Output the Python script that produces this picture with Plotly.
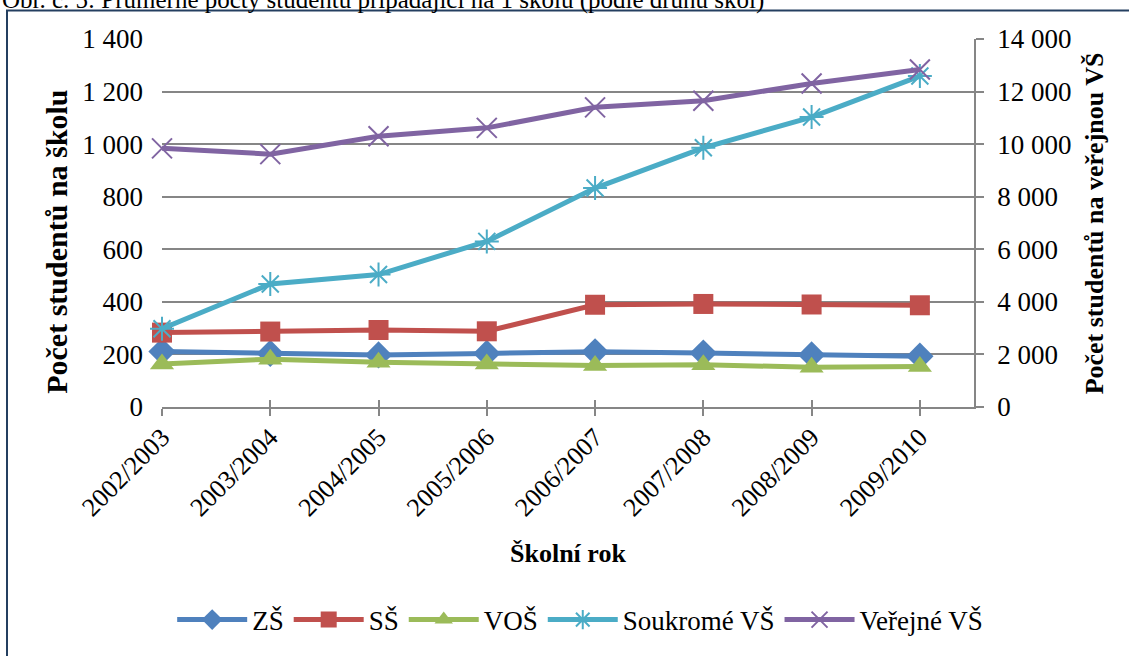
import plotly.graph_objects as go

years = ["2002/2003", "2003/2004", "2004/2005", "2005/2006",
         "2006/2007", "2007/2008", "2008/2009", "2009/2010"]
zs = [211, 204, 198, 204, 210, 205, 198, 193]
ss = [283, 287, 293, 288, 389, 392, 390, 387]
vos = [164, 182, 170, 164, 158, 161, 151, 154]
soukrome_vs = [2980, 4680, 5040, 6300, 8330, 9860, 11030, 12590]
verejne_vs = [9840, 9620, 10300, 10620, 11400, 11650, 12310, 12840]
left_ticks = [0, 200, 400, 600, 800, 1000, 1200, 1400]
right_ticks = [0, 2000, 4000, 6000, 8000, 10000, 12000, 14000]

xpos = list(range(len(years)))
FONT = "Liberation Serif"
GRID = "#868686"

fig = go.Figure()

def add(name, vals, color, symbol, size, yaxis="y", open_marker=False):
    marker = dict(symbol=symbol, size=size, color=color)
    if open_marker:
        marker["line"] = dict(color=color, width=2)
    fig.add_trace(go.Scatter(
        x=xpos, y=vals, name=name, mode="lines+markers", yaxis=yaxis,
        line=dict(color=color, width=5), marker=marker, cliponaxis=False))

add("ZŠ", zs, "#4F81BD", "diamond", 21)
add("SŠ", ss, "#C0504D", "square", 20)
add("VOŠ", vos, "#9BBB59", "triangle-up", 21)
add("Soukromé VŠ", soukrome_vs, "#4BACC6", "asterisk-open", 20, "y2", True)
add("Veřejné VŠ", verejne_vs, "#8064A2", "x-thin-open", 20, "y2", True)

# dummy trace for overlay x axis (inside tick marks)
fig.add_trace(go.Scatter(x=[None], y=[None], xaxis="x2", showlegend=False,
                         hoverinfo="skip"))

fig.update_layout(
    width=1129, height=656,
    margin=dict(l=162, r=155, t=39, b=244),
    paper_bgcolor="white", plot_bgcolor="white",
    separators=", ",
    font=dict(family=FONT, size=27, color="black"),
    xaxis=dict(range=[0, 7.5], tickvals=xpos, ticktext=years, tickangle=-45,
               showgrid=False, zeroline=False, showline=True, linecolor=GRID,
               linewidth=1.5, ticks="outside", ticklen=7, tickcolor=GRID,
               tickwidth=1.5, ticklabelstandoff=-4,
               tickfont=dict(family=FONT, size=26)),
    xaxis2=dict(range=[0, 7.5], tickvals=xpos, overlaying="x", anchor="y",
                side="bottom", showticklabels=False, showgrid=False,
                zeroline=False, ticks="inside", ticklen=7, tickcolor=GRID,
                tickwidth=1.5),
    yaxis=dict(range=[0, 1400], tickvals=left_ticks, tickformat=",d",
               showgrid=True, gridcolor=GRID, gridwidth=1.5, zeroline=False,
               showline=False, ticks="", ticklabelstandoff=18,
               tickfont=dict(family=FONT, size=27)),
    yaxis2=dict(range=[0, 14000], tickvals=right_ticks, tickformat=",d",
                overlaying="y", side="right", showgrid=False, zeroline=False,
                showline=True, linecolor=GRID, linewidth=1.5, ticks="outside",
                ticklen=8, tickcolor=GRID, tickwidth=1.5, ticklabelstandoff=8,
                tickfont=dict(family=FONT, size=27)),
    legend=dict(orientation="h", x=0.515, xanchor="center", y=-0.579,
                yanchor="middle", font=dict(family=FONT, size=27),
                bgcolor="rgba(0,0,0,0)", itemwidth=70),
    showlegend=True,
)

fig.add_annotation(text="<b>Počet studentů na školu</b>", textangle=-90,
                   xref="paper", yref="paper", x=(57 - 162) / 812, y=0.449,
                   xanchor="center", yanchor="middle", showarrow=False,
                   font=dict(family=FONT, size=30))
fig.add_annotation(text="<b>Počet studentů na veřejnou VŠ</b>", textangle=-90,
                   xref="paper", yref="paper", x=(1094 - 162) / 812, y=0.499,
                   xanchor="center", yanchor="middle", showarrow=False,
                   font=dict(family=FONT, size=26))
fig.add_annotation(text="<b>Školní rok</b>", xref="paper", yref="paper",
                   x=0.5, y=(412 - 560) / 373, xanchor="center",
                   yanchor="middle", showarrow=False,
                   font=dict(family=FONT, size=26))
fig.add_annotation(text="Obr. č. 5: Průměrné počty studentů připadající na 1 školu (podle druhu škol)",
                   xref="paper", yref="paper", x=(0 - 162) / 812,
                   y=(412 - 16) / 373, xanchor="left", yanchor="bottom",
                   showarrow=False, font=dict(family=FONT, size=25))

fig.add_shape(type="rect", xref="paper", yref="paper",
              x0=(7 - 162) / 812, x1=1.3, y0=(412 - 10) / 373, y1=-0.9,
              line=dict(color="#243F60", width=2), fillcolor="rgba(0,0,0,0)",
              layer="below")

fig.write_html("out.html", config={"displayModeBar": False},
               post_script="document.body.style.margin='0';")
